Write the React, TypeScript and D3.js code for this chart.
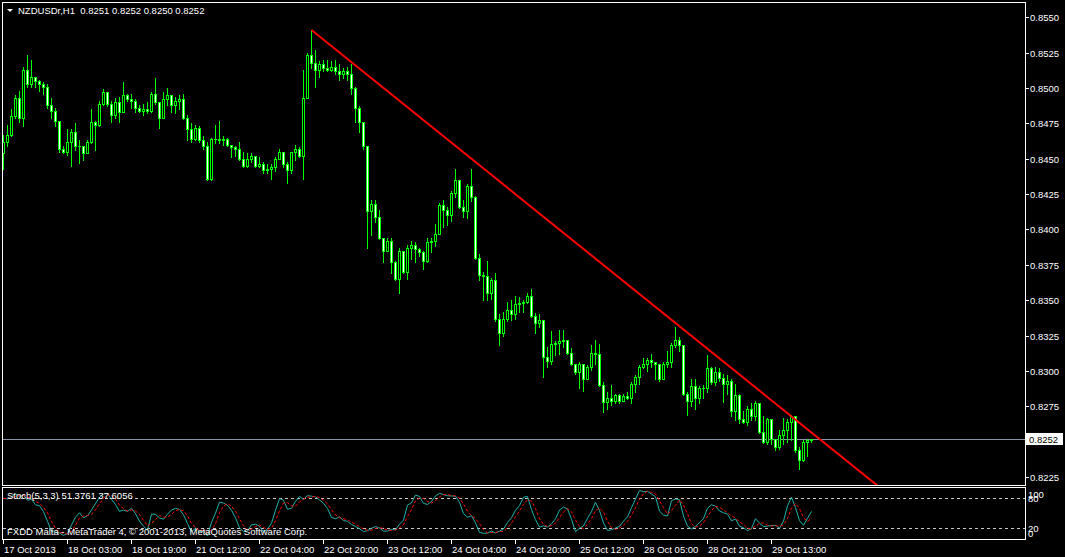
import React from 'react';
import * as d3 from 'd3';

const symbol = 'NZDUSDr,H1';
const open0 = 0.8454;
const closes = [
  0.8462,0.8467,0.8480,0.8493,0.8479,0.8513,0.8503,0.8508,0.8505,0.8503,
  0.8501,0.8488,0.8484,0.8477,0.8457,0.8455,0.8462,0.8469,0.8459,0.8459,
  0.8454,0.8462,0.8476,0.8474,0.8489,0.8497,0.8489,0.8481,0.8490,0.8483,
  0.8495,0.8492,0.8491,0.8486,0.8484,0.8485,0.8484,0.8496,0.8490,0.8479,
  0.8492,0.8495,0.8488,0.8491,0.8492,0.8479,0.8471,0.8464,0.8472,0.8463,
  0.8459,0.8436,0.8464,0.8464,0.8463,0.8464,0.8460,0.8458,0.8457,0.8450,
  0.8445,0.8450,0.8452,0.8445,0.8446,0.8442,0.8443,0.8444,0.8450,0.8455,
  0.8446,0.8442,0.8455,0.8457,0.8452,0.8493,0.8523,0.8518,0.8513,0.8517,
  0.8514,0.8513,0.8515,0.8512,0.8510,0.8512,0.8510,0.8500,0.8486,0.8476,
  0.8459,0.8413,0.8418,0.8409,0.8394,0.8385,0.8392,0.8377,0.8365,0.8385,
  0.8370,0.8387,0.8389,0.8386,0.8384,0.8378,0.8391,0.8392,0.8397,0.8417,
  0.8414,0.8410,0.8426,0.8435,0.8416,0.8413,0.8431,0.8423,0.8380,0.8368,
  0.8367,0.8355,0.8364,0.8337,0.8327,0.8337,0.8343,0.8340,0.8347,0.8348,
  0.8349,0.8353,0.8339,0.8334,0.8336,0.8310,0.8307,0.8319,0.8320,0.8321,
  0.8322,0.8313,0.8305,0.8299,0.8305,0.8294,0.8303,0.8313,0.8312,0.8290,
  0.8278,0.8281,0.8279,0.8283,0.8279,0.8282,0.8281,0.8291,0.8296,0.8303,
  0.8305,0.8308,0.8306,0.8305,0.8294,0.8305,0.8306,0.8318,0.8322,0.8318,
  0.8284,0.8279,0.8289,0.8281,0.8288,0.8288,0.8302,0.8292,0.8299,0.8295,
  0.8291,0.8293,0.8272,0.8283,0.8266,0.8264,0.8273,0.8268,0.8277,0.8257,
  0.8250,0.8266,0.8252,0.8246,0.8255,0.8258,0.8264,0.8268,0.8244,0.8237,
  0.8250,0.8251,0.8252,
];
const highs = [
  0.8467,0.8474,0.8485,0.8495,0.8498,0.8515,0.8523,0.8520,0.8508,0.8506,
  0.8504,0.8503,0.8493,0.8486,0.8477,0.8459,0.8471,0.8471,0.8475,0.8463,
  0.8459,0.8463,0.8485,0.8477,0.8491,0.8499,0.8497,0.8491,0.8493,0.8494,
  0.8504,0.8496,0.8496,0.8492,0.8488,0.8489,0.8490,0.8497,0.8507,0.8490,
  0.8497,0.8500,0.8495,0.8494,0.8495,0.8496,0.8481,0.8475,0.8474,0.8473,
  0.8466,0.8462,0.8465,0.8474,0.8477,0.8466,0.8465,0.8460,0.8459,0.8462,
  0.8455,0.8454,0.8454,0.8451,0.8451,0.8448,0.8446,0.8446,0.8451,0.8457,
  0.8455,0.8448,0.8455,0.8460,0.8458,0.8513,0.8525,0.8541,0.8527,0.8519,
  0.8520,0.8520,0.8519,0.8520,0.8517,0.8514,0.8515,0.8517,0.8501,0.8487,
  0.8476,0.8459,0.8421,0.8421,0.8414,0.8394,0.8394,0.8394,0.8378,0.8387,
  0.8385,0.8389,0.8392,0.8391,0.8387,0.8385,0.8394,0.8394,0.8404,0.8419,
  0.8421,0.8416,0.8427,0.8443,0.8435,0.8421,0.8432,0.8443,0.8424,0.8383,
  0.8370,0.8378,0.8366,0.8369,0.8340,0.8342,0.8349,0.8350,0.8353,0.8352,
  0.8350,0.8355,0.8358,0.8341,0.8340,0.8335,0.8317,0.8328,0.8321,0.8329,
  0.8329,0.8321,0.8316,0.8305,0.8306,0.8304,0.8304,0.8318,0.8322,0.8319,
  0.8292,0.8285,0.8290,0.8284,0.8284,0.8284,0.8285,0.8292,0.8297,0.8304,
  0.8309,0.8309,0.8312,0.8306,0.8305,0.8306,0.8314,0.8320,0.8331,0.8324,
  0.8318,0.8285,0.8294,0.8294,0.8289,0.8290,0.8311,0.8303,0.8303,0.8302,
  0.8298,0.8297,0.8294,0.8291,0.8284,0.8272,0.8275,0.8277,0.8279,0.8277,
  0.8268,0.8267,0.8264,0.8251,0.8258,0.8267,0.8266,0.8269,0.8265,0.8246,
  0.8251,0.8252,0.8252,
];
const lows = [
  0.8443,0.8459,0.8466,0.8479,0.8476,0.8473,0.8501,0.8501,0.8501,0.8498,
  0.8496,0.8486,0.8479,0.8473,0.8455,0.8454,0.8453,0.8445,0.8456,0.8447,
  0.8449,0.8454,0.8461,0.8456,0.8473,0.8488,0.8487,0.8476,0.8479,0.8476,
  0.8483,0.8491,0.8486,0.8483,0.8483,0.8481,0.8482,0.8483,0.8489,0.8472,
  0.8480,0.8488,0.8483,0.8482,0.8485,0.8478,0.8463,0.8462,0.8463,0.8462,
  0.8457,0.8435,0.8435,0.8461,0.8461,0.8460,0.8459,0.8451,0.8452,0.8449,
  0.8444,0.8444,0.8448,0.8444,0.8444,0.8440,0.8440,0.8436,0.8441,0.8450,
  0.8444,0.8433,0.8440,0.8449,0.8451,0.8436,0.8495,0.8514,0.8501,0.8508,
  0.8512,0.8512,0.8512,0.8510,0.8506,0.8507,0.8506,0.8496,0.8476,0.8469,
  0.8457,0.8387,0.8396,0.8405,0.8393,0.8377,0.8385,0.8369,0.8364,0.8355,
  0.8369,0.8365,0.8379,0.8377,0.8381,0.8372,0.8377,0.8384,0.8388,0.8398,
  0.8402,0.8403,0.8406,0.8423,0.8415,0.8409,0.8408,0.8420,0.8379,0.8364,
  0.8350,0.8350,0.8351,0.8335,0.8318,0.8325,0.8335,0.8336,0.8337,0.8342,
  0.8342,0.8348,0.8338,0.8327,0.8331,0.8296,0.8303,0.8305,0.8311,0.8312,
  0.8317,0.8312,0.8304,0.8298,0.8288,0.8286,0.8294,0.8301,0.8305,0.8289,
  0.8271,0.8273,0.8276,0.8277,0.8277,0.8279,0.8280,0.8277,0.8285,0.8291,
  0.8302,0.8300,0.8303,0.8294,0.8293,0.8295,0.8303,0.8303,0.8317,0.8314,
  0.8283,0.8269,0.8275,0.8273,0.8277,0.8281,0.8285,0.8291,0.8290,0.8293,
  0.8278,0.8284,0.8268,0.8265,0.8263,0.8263,0.8262,0.8265,0.8265,0.8256,
  0.8249,0.8248,0.8248,0.8244,0.8245,0.8248,0.8250,0.8251,0.8243,0.8231,
  0.8236,0.8240,0.8250,
];

const priceTicks = [0.8550,0.8525,0.8500,0.8475,0.8450,0.8425,0.8400,0.8375,0.8350,0.8325,0.8300,0.8275,0.8225];
const timeTickBars = [0,16,32,48,64,80,96,112,128,144,160,176,192];
const timeTickLabels = ['17 Oct 2013','18 Oct 03:00','18 Oct 19:00','21 Oct 12:00','22 Oct 04:00','22 Oct 20:00','23 Oct 12:00','24 Oct 04:00','24 Oct 20:00','25 Oct 12:00','28 Oct 05:00','28 Oct 21:00','29 Oct 13:00'];
const trendBars = [77, 200];
const trendPrices = [0.8541, 0.8261];
const stochLevels = [80, 20];
const stochTitle = 'Stoch(5,3,3) 51.3761 37.6056';
const copyright = 'FXDD Malta - MetaTrader 4, \u00A9 2001-2013, MetaQuotes Software Corp.';

const FONT = '"Liberation Sans", Arial, sans-serif';

export default function App() {
  const n = closes.length;
  const opens = [open0, ...closes.slice(0, -1)];
  const hi = highs.map((h, i) => Math.max(h, opens[i], closes[i]));
  const lo = lows.map((l, i) => Math.min(l, opens[i], closes[i]));

  const x = d3.scaleLinear().domain([0, 1]).range([3, 7]);
  const y = d3.scaleLinear().domain([0.8225, 0.8550]).range([477, 17.3]);
  const ys = d3.scaleLinear().domain([0, 100]).range([538, 488]);

  // Stochastic (5,3,3)
  const raw = closes.map((c, i) => {
    const s = Math.max(0, i - 4);
    const hh = d3.max(hi.slice(s, i + 1)) as number;
    const ll = d3.min(lo.slice(s, i + 1)) as number;
    return [c - ll, hh - ll];
  });
  const K = raw.map((_, i) => {
    let a = 0, b = 0;
    for (let j = Math.max(0, i - 2); j <= i; j++) { a += raw[j][0]; b += raw[j][1]; }
    return b === 0 ? 50 : (100 * a) / b;
  });
  const D = K.map((_, i) => d3.mean(K.slice(Math.max(0, i - 2), i + 1)) as number);
  const sLine = d3.line<number>().x((_, i) => x(i) + 0.5).y((v) => ys(v));

  const last = n - 1;
  const fmt = (v: number) => v.toFixed(4);
  const header = `${symbol}\u00A0\u00A0${fmt(opens[last])} ${fmt(hi[last])} ${fmt(lo[last])} ${fmt(closes[last])}`;
  const bidY = Math.round(y(closes[last])) + 0.5;

  // trendline ray
  const slope = (trendPrices[1] - trendPrices[0]) / (trendBars[1] - trendBars[0]);
  const endBar = trendBars[0] + 260;
  const tx1 = x(trendBars[0]) + 0.5, ty1 = y(trendPrices[0]);
  const tx2 = x(endBar) + 0.5, ty2 = y(trendPrices[0] + slope * (endBar - trendBars[0]));

  const candles = closes.map((c, i) => {
    const o = opens[i];
    const cx = x(i);
    const wt = Math.round(y(hi[i]));
    const wb = Math.round(y(lo[i]));
    const bt = Math.round(y(Math.max(o, c)));
    const bb = Math.round(y(Math.min(o, c)));
    const bull = c > o;
    return (
      <g key={i}>
        <rect x={cx} y={wt} width={1} height={wb - wt + 1} fill="#00FF00" />
        <rect x={cx - 1} y={bt} width={3} height={bb - bt + 1} fill="#00FF00" />
        {bb - bt >= 2 && (
          <rect x={cx} y={bt + 1} width={1} height={bb - bt - 1} fill={bull ? '#000000' : '#FFFFFF'} />
        )}
      </g>
    );
  });

  return (
    <div style={{ position: 'absolute', left: 0, top: 0, width: 1065, height: 557, background: '#000' }}>
      <svg width={1065} height={557} style={{ display: 'block' }} fontFamily={FONT}>
        <defs>
          <clipPath id="mainClip"><rect x={3} y={3} width={1022} height={482} /></clipPath>
          <clipPath id="stochClip"><rect x={3} y={488} width={1022} height={51} /></clipPath>
        </defs>
        <rect x={0} y={0} width={1065} height={557} fill="#000" />

        <g clipPath="url(#mainClip)" shapeRendering="crispEdges">
          <line x1={2} x2={1025} y1={bidY} y2={bidY} stroke="#8a94a6" strokeWidth={1} />
          {candles}
        </g>
        <g clipPath="url(#mainClip)">
          <line x1={tx1} y1={ty1} x2={tx2} y2={ty2} stroke="#FF0000" strokeWidth={2} />
        </g>

        {/* header */}
        <path d="M7,9 L13,9 L10,12 Z" fill="#fff" />
        <text x={18} y={14} fontSize={9.5} fill="#fff">{header}</text>

        {/* frames */}
        <g shapeRendering="crispEdges" fill="none" stroke="#fff">
          <rect x={2.5} y={2.5} width={1023} height={483} />
          <rect x={2.5} y={487.5} width={1023} height={52} />
        </g>

        {/* price axis */}
        {priceTicks.map((p) => {
          const yy = Math.round(y(p)) + 0.5;
          return (
            <g key={p}>
              <line x1={1026} x2={1029} y1={yy} y2={yy} stroke="#fff" shapeRendering="crispEdges" />
              <text x={1030} y={yy + 3.5} fontSize={9.5} fill="#fff">{p.toFixed(4)}</text>
            </g>
          );
        })}
        <rect x={1026} y={433} width={37} height={12} fill="#fff" />
        <text x={1029} y={443} fontSize={9.5} fill="#000">{fmt(closes[last])}</text>

        {/* stochastic */}
        {stochLevels.map((lv) => (
          <line key={lv} x1={3} x2={1025} y1={Math.round(ys(lv)) + 0.5} y2={Math.round(ys(lv)) + 0.5}
            stroke="#c8c8c8" strokeDasharray="3,3" shapeRendering="crispEdges" />
        ))}
        <g clipPath="url(#stochClip)">
          <path d={sLine(K) || ''} fill="none" stroke="#20B2AA" strokeWidth={1} />
          <path d={sLine(D) || ''} fill="none" stroke="#FF0000" strokeWidth={1} strokeDasharray="3,2" />
        </g>
        <text x={7} y={499} fontSize={9.5} fill="#fff">{stochTitle}</text>
        <text x={7} y={535} fontSize={9.5} fill="#fff">{copyright}</text>
        <text x={1028} y={498} fontSize={9.5} fill="#fff">100</text>
        <text x={1028} y={501.5} fontSize={9.5} fill="#fff">80</text>
        <text x={1028} y={531.5} fontSize={9.5} fill="#fff">20</text>
        <text x={1028} y={536.5} fontSize={9.5} fill="#fff">0</text>

        {/* time axis */}
        {timeTickBars.map((b, k) => {
          const xx = x(b) + 0.5;
          return (
            <g key={b}>
              <line x1={xx} x2={xx} y1={540} y2={544} stroke="#fff" shapeRendering="crispEdges" />
              <text x={xx + 0.5} y={553} fontSize={9.5} fill="#fff">{timeTickLabels[k]}</text>
            </g>
          );
        })}
      </svg>
    </div>
  );
}
